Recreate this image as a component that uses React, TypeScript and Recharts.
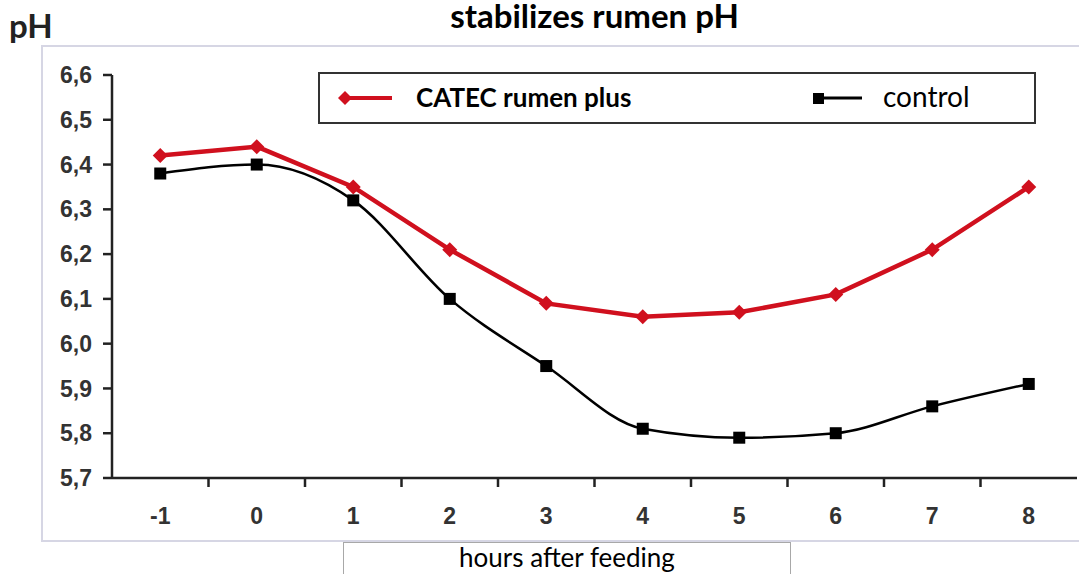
import { LineChart, Line, XAxis, YAxis } from "recharts";

const hours = [-1, 0, 1, 2, 3, 4, 5, 6, 7, 8];
const catecValues = [6.42, 6.44, 6.35, 6.21, 6.09, 6.06, 6.07, 6.11, 6.21, 6.35];
const controlValues = [6.38, 6.4, 6.32, 6.1, 5.95, 5.81, 5.79, 5.8, 5.86, 5.91];
const yTicks = [5.7, 5.8, 5.9, 6.0, 6.1, 6.2, 6.3, 6.4, 6.5, 6.6];
// tick marks sit between the hours, labels on them
const xTickMarks = [-0.5, 0.5, 1.5, 2.5, 3.5, 4.5, 5.5, 6.5, 7.5];

const data = hours.map((h, i) => ({ h, catec: catecValues[i], control: controlValues[i] }));

const RED = "#d0101e";
const CALIBRI = "Lato, 'Open Sans', sans-serif";
const ARIAL = "'Liberation Sans', Arial, sans-serif";

function Diamond({ cx, cy }: any) {
  if (cx == null || cy == null) return null;
  const r = 7.5;
  return <path d={`M${cx},${cy - r}L${cx + r},${cy}L${cx},${cy + r}L${cx - r},${cy}Z`} fill={RED} />;
}

function Square({ cx, cy }: any) {
  if (cx == null || cy == null) return null;
  return <rect x={cx - 6} y={cy - 6} width={12} height={12} fill="#000" />;
}

function XTick({ x, y, payload }: any) {
  const v = payload.value;
  if (Number.isInteger(v)) {
    return (
      <text x={x} y={y + 46} textAnchor="middle" fontFamily={ARIAL} fontWeight="bold" fontSize={23} fill="#333">
        {v}
      </text>
    );
  }
  return <line x1={x} y1={y} x2={x} y2={y + 9} stroke="#222" strokeWidth={2.5} />;
}

export default function App() {
  return (
    <div style={{ position: "absolute", left: 0, top: 0, width: 1079, height: 574, background: "#fff", overflow: "hidden" }}>
      <div
        style={{
          position: "absolute", left: 41, top: 45, width: 1060, height: 497,
          border: "2px solid #d6d6e4", boxSizing: "border-box",
        }}
      />
      <div
        style={{
          position: "absolute", left: 0, width: 1079, top: 1, textAlign: "center", paddingLeft: 110,
          boxSizing: "border-box", fontFamily: CALIBRI, fontWeight: "bold", fontSize: 33, color: "#000",
          lineHeight: "28px",
        }}
      >
        stabilizes rumen pH
      </div>
      <div
        style={{
          position: "absolute", left: 9, top: 5, fontFamily: CALIBRI, fontWeight: "bold", fontSize: 33, color: "#222",
          lineHeight: "40px",
        }}
      >
        pH
      </div>
      <div style={{ position: "absolute", left: 0, top: 0 }}>
        <LineChart width={1079} height={574} data={data} margin={{ top: 75, right: 2, bottom: 56, left: 0 }}>
          <XAxis
            dataKey="h"
            type="number"
            domain={[-1.5, 8.5]}
            ticks={[...hours, ...xTickMarks].sort((a, b) => a - b)}
            interval={0}
            tickLine={false}
            tickSize={0}
            tickMargin={0}
            tick={<XTick />}
            axisLine={{ stroke: "#222", strokeWidth: 2.5 }}
            height={40}
          />
          <YAxis
            domain={[5.7, 6.6]}
            ticks={yTicks}
            interval={0}
            width={112}
            tickSize={9}
            tickMargin={11}
            tickLine={{ stroke: "#222", strokeWidth: 2.5 }}
            axisLine={{ stroke: "#222", strokeWidth: 2.5 }}
            tickFormatter={(v: number) => v.toFixed(1).replace(".", ",")}
            tick={{ fontFamily: ARIAL, fontWeight: "bold", fontSize: 23, fill: "#333" }}
          />
          <Line
            dataKey="catec"
            type="linear"
            stroke={RED}
            strokeWidth={4.5}
            dot={<Diamond />}
            isAnimationActive={false}
          />
          <Line
            dataKey="control"
            type="monotone"
            stroke="#000"
            strokeWidth={2.5}
            dot={<Square />}
            isAnimationActive={false}
          />
        </LineChart>
      </div>
      <div
        style={{
          position: "absolute", left: 318, top: 72, width: 718, height: 52,
          border: "2px solid #333", boxSizing: "border-box", background: "#fff",
        }}
      >
        <svg style={{ position: "absolute", left: 16, top: 14 }} width={60} height={20}>
          <line x1={4} y1={10} x2={56} y2={10} stroke={RED} strokeWidth={4} />
          <path d="M9,3L16,10L9,17L2,10Z" fill={RED} />
        </svg>
        <span
          style={{
            position: "absolute", left: 96, top: 7, fontFamily: CALIBRI, fontWeight: "bold", fontSize: 26, color: "#000",
          }}
        >
          CATEC rumen plus
        </span>
        <svg style={{ position: "absolute", left: 492, top: 14 }} width={60} height={20}>
          <line x1={6} y1={10} x2={50} y2={10} stroke="#000" strokeWidth={3} />
          <rect x={1} y={5} width={11} height={11} fill="#000" />
        </svg>
        <span style={{ position: "absolute", left: 563, top: 5, fontFamily: CALIBRI, fontSize: 28, color: "#000" }}>
          control
        </span>
      </div>
      <div
        style={{
          position: "absolute", left: 343, top: 542, width: 448, height: 50,
          border: "1.5px solid #a8a8a8", boxSizing: "border-box", background: "#fff",
          textAlign: "center", fontFamily: CALIBRI, fontSize: 26, color: "#000", lineHeight: "29px",
        }}
      >
        hours after feeding
      </div>
    </div>
  );
}
